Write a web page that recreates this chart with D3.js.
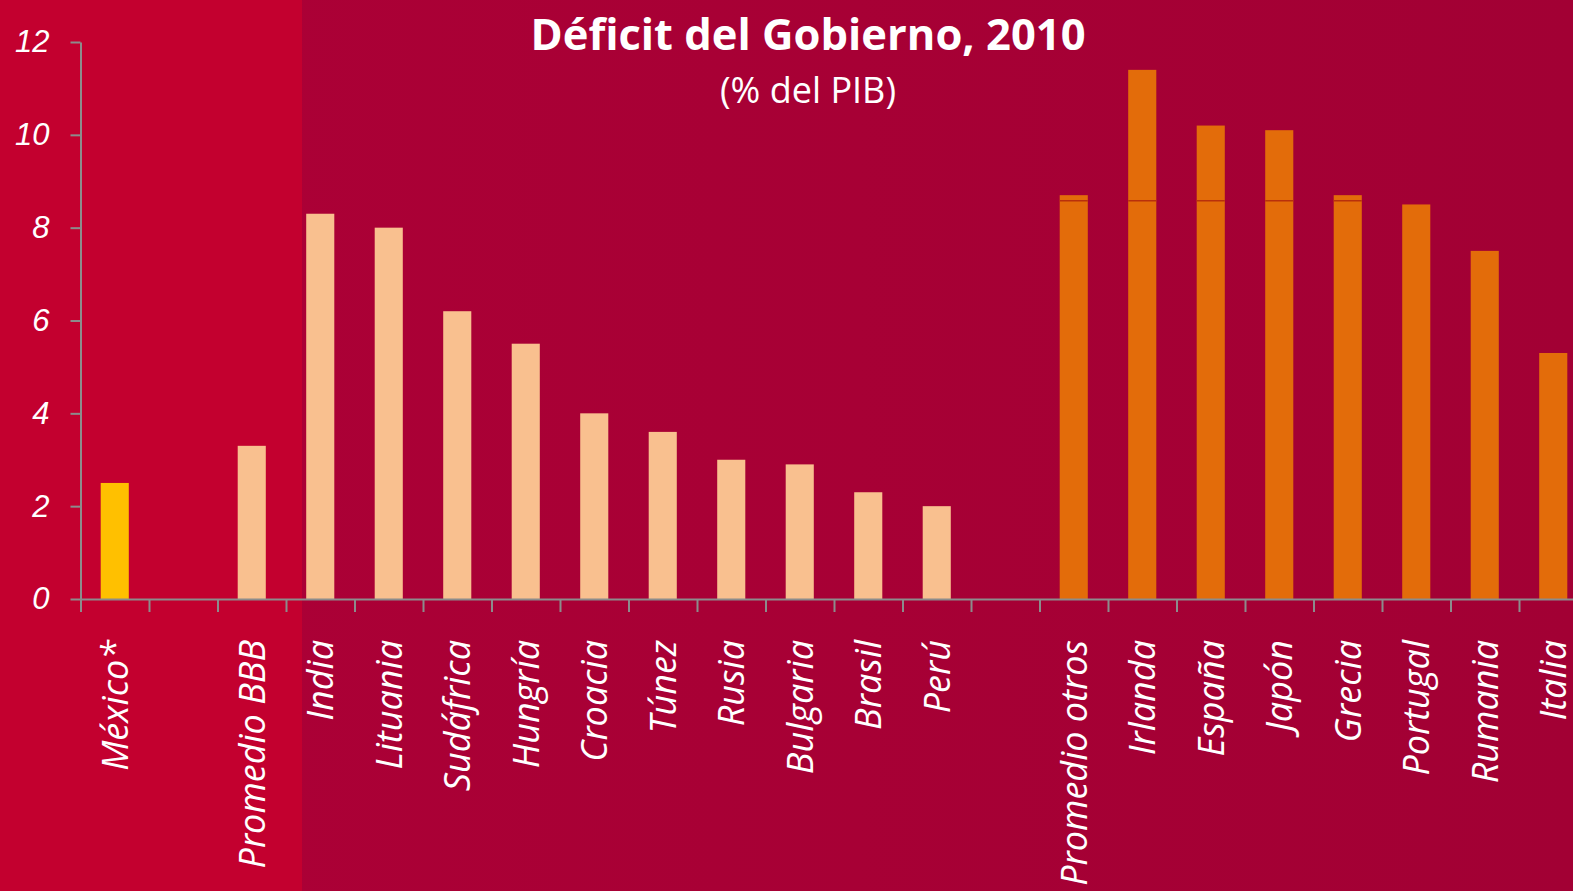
<!doctype html>
<html>
<head>
<meta charset="utf-8">
<style>
  body { margin: 0; background: #a80036; }
  svg { display: block; font-family: "Open Sans", sans-serif; }
  .axis path, .axis line { stroke: #8c8c8c; stroke-width: 2; }
  .ylab { fill: #fff; font-size: 31px; font-style: italic; }
  .xlab { fill: #fff; font-size: 36px; font-style: italic; }
</style>
<script src="https://d3js.org/d3.v7.min.js"></script>
</head>
<body>
<svg width="1573" height="891"></svg>
<script>
// data
var categories = ["México*", "", "Promedio BBB", "India", "Lituania", "Sudáfrica", "Hungría",
  "Croacia", "Túnez", "Rusia", "Bulgaria", "Brasil", "Perú", " ", "Promedio otros",
  "Irlanda", "España", "Japón", "Grecia", "Portugal", "Rumania", "Italia"];
var values = [2.5, null, 3.3, 8.3, 8.0, 6.2, 5.5, 4.0, 3.6, 3.0, 2.9, 2.3, 2.0, null, 8.7,
  11.4, 10.2, 10.1, 8.7, 8.5, 7.5, 5.3];
var groups = ["mx", "", "bbb", "bbb", "bbb", "bbb", "bbb", "bbb", "bbb", "bbb", "bbb", "bbb", "bbb", "",
  "oth", "oth", "oth", "oth", "oth", "oth", "oth", "oth"];
var yTicks = [0, 2, 4, 6, 8, 10, 12];
var breakLevel = 8.58;

var colors = { mx: "#ffc000", bbb: "#f9c08f", oth: "#e36c0a" };

var svg = d3.select("svg");
var W = 1573, H = 891;

// background
var defs = svg.append("defs");
var grad = defs.append("linearGradient").attr("id", "bg").attr("x1", 0).attr("x2", 1).attr("y1", 0).attr("y2", 0);
grad.append("stop").attr("offset", "0%").attr("stop-color", "#ad0036");
grad.append("stop").attr("offset", "100%").attr("stop-color", "#a20034");
svg.append("rect").attr("width", W).attr("height", H).attr("fill", "url(#bg)");
svg.append("rect").attr("width", 302).attr("height", H).attr("fill", "#c3002f");

var left = 80.5, step = 68.5;
var x = d3.scaleBand().domain(d3.range(categories.length))
  .range([left, left + step * categories.length])
  .paddingInner(0.59).paddingOuter(0.295);
var xb = d3.scaleLinear().domain([0, categories.length]).range([left, left + step * categories.length]);
var y = d3.scaleLinear().domain([0, 12]).range([599, 42]);

// title
svg.append("text").attr("x", 808).attr("y", 50).attr("text-anchor", "middle")
  .attr("fill", "#fff").attr("font-size", 43.5).attr("font-weight", "bold")
  .text("Déficit del Gobierno, 2010");
svg.append("text").attr("x", 808).attr("y", 103).attr("text-anchor", "middle")
  .attr("fill", "#fff").attr("font-size", 36)
  .text("(% del PIB)");

// bars
var data = categories.map(function(c, i) { return { i: i, name: c, v: values[i], g: groups[i] }; })
  .filter(function(d) { return d.v != null; });

svg.selectAll(".bar").data(data).enter().append("rect")
  .attr("class", "bar")
  .attr("x", function(d) { return x(d.i); })
  .attr("y", function(d) { return y(d.v); })
  .attr("width", x.bandwidth())
  .attr("height", function(d) { return y(0) - y(d.v); })
  .attr("fill", function(d) { return colors[d.g]; });

// thin break line across the tall orange bars
svg.selectAll(".brk").data(data.filter(function(d) { return d.g == "oth" && d.v > breakLevel; }))
  .enter().append("line")
  .attr("x1", function(d) { return x(d.i); })
  .attr("x2", function(d) { return x(d.i) + x.bandwidth(); })
  .attr("y1", y(breakLevel)).attr("y2", y(breakLevel))
  .attr("stroke", "#b8300c").attr("stroke-width", 1.5);

// y axis
var ya = svg.append("g").attr("class", "axis").attr("transform", "translate(" + left + ",0)")
  .call(d3.axisLeft(y).tickValues(yTicks).tickSize(10).tickSizeOuter(0).tickPadding(21));
ya.selectAll("text").attr("class", "ylab").attr("fill", null).attr("font-size", null).attr("font-family", null);

// x axis
var xa = svg.append("g").attr("class", "axis").attr("transform", "translate(0," + y(0) + ")")
  .call(d3.axisBottom(xb).tickValues(d3.range(categories.length + 1)).tickSize(13).tickSizeOuter(0).tickFormat(""));

svg.selectAll(".xlab").data(categories.map(function(c, i) { return { i: i, name: c }; }))
  .enter().append("text")
  .attr("class", "xlab")
  .attr("text-anchor", "end")
  .attr("transform", function(d) {
    return "translate(" + (x(d.i) + x.bandwidth() / 2) + ",640) rotate(-90)";
  })
  .attr("dy", "0.36em")
  .text(function(d) { return d.name.trim(); });
</script>
</body>
</html>
